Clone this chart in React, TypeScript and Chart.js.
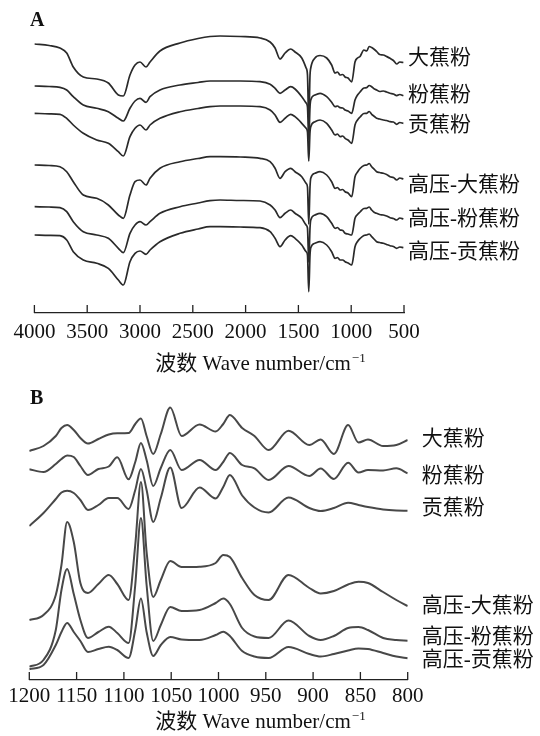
import React, { useEffect, useRef } from "react";
import { Chart, registerables } from "chart.js";

Chart.register(...registerables);

const SERIF = "'Liberation Serif', 'Times New Roman', 'Noto Sans CJK SC', serif";

// ---------- shared ----------
const NAMES = ["大蕉粉", "粉蕉粉", "贡蕉粉", "高压-大蕉粉", "高压-粉蕉粉", "高压-贡蕉粉"];
const AXIS_TITLE = "波数 Wave number/cm";
const AXIS_TITLE_SUP = "−1";

// ---------- panel A: full FTIR spectra (offset transmittance, arbitrary units) ----------
const TICKS_A = [4000, 3500, 3000, 2500, 2000, 1500, 1000, 500];
const WN_A = [4000, 3860, 3758, 3694, 3632, 3537, 3410, 3300, 3205, 3158, 3095, 3047, 3000, 2943, 2905, 2811, 2621, 2450, 2337, 2242, 2050, 1863, 1768, 1721, 1674, 1626, 1573, 1532, 1468, 1427, 1414, 1402, 1390, 1383, 1343, 1295, 1232, 1185, 1153, 1130, 1105, 1080, 1058, 1030, 995, 964, 940, 916, 880, 853, 830, 806, 780, 759, 730, 696, 665, 632, 600, 569, 540, 506];
const A_DA = [269, 267.5, 265, 260, 246, 236, 234, 230, 218, 217, 238, 248, 251, 246, 251, 262, 270, 274.5, 276.5, 277, 276.5, 275, 271, 265, 254, 260, 264, 261, 255, 245, 238, 191, 238, 245, 255, 257.5, 255, 248, 240, 241, 238, 238.5, 236, 235, 231, 251, 255, 256.5, 263, 262, 266.5, 265.5, 263.5, 261.5, 258.5, 258, 256.5, 254.7, 252.5, 249, 251, 250.5];
const A_FEN = [227, 226.5, 225.7, 223, 216.3, 208, 204.7, 201.3, 194.7, 192, 204.7, 212, 214.7, 210.7, 216.3, 223, 228, 230.5, 232, 232, 232, 231.3, 228.7, 224.7, 219.7, 223, 226.3, 224, 216.3, 210, 206, 173, 206, 213, 218, 219.7, 216.3, 210.7, 206.3, 207, 205.3, 205, 203, 202, 199.7, 213, 218, 221, 225, 225.3, 227.5, 226.3, 224, 223, 221.5, 222, 221, 219.7, 219, 217.3, 218.5, 217.3];
const A_GONG = [199.7, 199.2, 198.7, 194.7, 188, 179.7, 173, 169.7, 161.3, 157, 176.3, 184.7, 188, 183, 188, 194.7, 201.3, 204.5, 206.3, 207, 207, 206.3, 203, 198, 190.7, 194.7, 198.7, 196.3, 189.7, 184.7, 181, 152, 181, 186.3, 191.3, 193, 189.7, 183, 178, 179, 176.3, 177, 174.7, 173, 169.7, 188, 193, 196, 199.5, 199.7, 201.5, 198.7, 196.5, 194.7, 194, 193, 192.5, 191.3, 191, 188.7, 190.5, 189.7];
const A_HP_DA = [148, 147.5, 146.3, 141.3, 131.3, 118, 114.7, 108, 98, 94.7, 118, 131.3, 133, 128, 134.7, 144.7, 151.3, 154.5, 156.3, 156.3, 156, 154.7, 151.3, 144.7, 134.7, 141.3, 144.7, 141.3, 136.3, 129.7, 126, 89, 126, 134.7, 139.7, 141.3, 138, 131.3, 124.7, 125.5, 123, 123.5, 121.3, 120, 116.3, 136.3, 141, 144.5, 147.5, 148, 149.5, 146.3, 143.5, 141.3, 140.5, 139.7, 138.5, 136.3, 135.5, 133, 135, 134];
const A_HP_FEN = [106.3, 106, 105.3, 101.3, 91.3, 81.3, 78, 74.7, 64.7, 60.3, 79.7, 88, 91.3, 88, 91.3, 99.7, 106.3, 110, 112.3, 113, 112.5, 112, 108, 103, 95.3, 99.7, 103, 99.7, 94.7, 88, 85, 51, 85, 93, 98, 99.7, 96.3, 89.7, 84.7, 85.5, 83, 82.5, 79.7, 79, 78, 94.7, 98.5, 101, 104.5, 104.7, 106, 103, 100.5, 99.7, 98.5, 98, 97, 95.3, 94.5, 93, 95, 94];
const A_HP_GONG = [78, 77.7, 77.3, 73, 61.3, 53, 49.7, 44.7, 33, 28, 51.3, 59.7, 62, 58.7, 63, 71.3, 79.7, 84, 86.3, 86.3, 86, 85.3, 81.3, 74.7, 66.3, 73, 77.3, 74.7, 68, 61.3, 58, 21.3, 58, 65.3, 69.7, 71.3, 68, 61.3, 54.7, 55.5, 53, 53, 51.3, 50, 48, 66.3, 71.5, 74.5, 77.5, 78, 79, 76.3, 73.5, 71.3, 70.5, 69.7, 68.5, 67.3, 66.5, 64.7, 66, 65.3];

// ---------- panel B: 1200–800 cm-1 deconvolved region ----------
const TICKS_B = [1200, 1150, 1100, 1050, 1000, 950, 900, 850, 800];
const WN_B = [1200, 1185, 1172, 1166, 1160, 1153, 1146, 1138, 1127, 1116, 1107, 1095, 1088, 1082, 1076, 1069, 1061, 1051, 1039, 1020, 1003, 995, 988, 975, 962, 947, 926, 904, 892, 878, 863, 852, 842, 826, 812, 800];
const B_DA = [229, 234, 244, 252, 255, 250, 242, 236.5, 241, 245.5, 246.7, 247, 256, 261.5, 244, 226, 246, 272.5, 244, 255.5, 248.5, 256, 265, 252, 244, 230, 249.3, 235, 240.5, 226, 255, 237.5, 240.5, 234, 235, 240];
const B_FEN = [210.7, 208, 216, 221, 224.5, 223, 214, 205, 211, 213.5, 222.7, 200.7, 218, 237, 220, 194, 212, 230, 210, 220, 210, 218, 227, 215, 211.7, 200, 214, 204, 211.5, 201, 217.3, 207.5, 210, 209.5, 211.7, 206.7];
const B_GONG = [154, 167, 181, 187.5, 189.3, 187, 180, 170, 175, 182, 182, 171, 190, 211, 190, 158, 182, 212.5, 172, 192.5, 181.5, 193, 205, 184.5, 172.5, 167.5, 182.5, 172, 169, 172, 177.3, 175, 173, 170.5, 169.5, 169.3];
const B_HP_DA = [60, 65, 85, 115, 158, 138, 97, 87, 96, 105, 96, 80, 135, 198, 128, 83, 100, 119, 113, 113.3, 117, 125, 123, 102, 85, 80, 105, 92, 86.5, 89, 95.5, 98.3, 97, 88, 80, 74];
const B_HP_FEN = [13.3, 20, 50, 90, 111, 86, 60, 42, 48, 53.3, 47, 37, 95, 162, 95, 39, 55, 73, 69, 70, 77, 81.5, 76, 52, 43.5, 42, 59.5, 44, 40, 44, 52, 53, 50, 42, 40, 39.3];
const B_HP_GONG = [10.7, 15, 35, 48, 57, 48, 39, 28, 31, 33.3, 30, 22, 50, 81.5, 48, 24, 35, 43, 40.5, 40, 45, 48.3, 44, 29, 23.5, 22, 33, 26, 23.5, 26, 29.5, 31.5, 31, 27, 23.5, 21.7];

type DecorOpts = {
  letter: string;
  letterX: number;
  letterY: number;
  titleX: number;
  titleY: number;
  labelGap: number;
  nudges: number[];
  tickLen: number;
};

const decorPlugin = {
  id: "decor",
  afterDraw(chart: any, _args: any, opts: DecorOpts) {
    const { ctx, chartArea } = chart;
    const xs = chart.scales.x;
    ctx.save();
    // inward tick marks
    ctx.strokeStyle = "#222";
    ctx.lineWidth = 1.3;
    ctx.beginPath();
    xs.ticks.forEach((t: any) => {
      const px = xs.getPixelForValue(t.value);
      ctx.moveTo(px, chartArea.bottom);
      ctx.lineTo(px, chartArea.bottom - opts.tickLen);
    });
    ctx.stroke();
    // series labels at the right end of each curve
    ctx.fillStyle = "#111";
    ctx.font = `21px ${SERIF}`;
    ctx.textAlign = "left";
    ctx.textBaseline = "middle";
    chart.data.datasets.forEach((ds: any, i: number) => {
      const meta = chart.getDatasetMeta(i);
      const pt = meta.data[meta.data.length - 1];
      ctx.fillText(ds.label, chartArea.right + opts.labelGap, pt.y + (opts.nudges[i] || 0));
    });
    // panel letter
    ctx.textBaseline = "alphabetic";
    ctx.font = `bold 20px ${SERIF}`;
    ctx.fillText(opts.letter, opts.letterX, opts.letterY);
    // axis title with superscript
    ctx.font = `21px ${SERIF}`;
    const w1 = ctx.measureText(AXIS_TITLE).width;
    ctx.font = `13px ${SERIF}`;
    const w2 = ctx.measureText(AXIS_TITLE_SUP).width;
    const x0 = opts.titleX - (w1 + w2) / 2;
    ctx.font = `21px ${SERIF}`;
    ctx.fillText(AXIS_TITLE, x0, opts.titleY);
    ctx.font = `13px ${SERIF}`;
    ctx.fillText(AXIS_TITLE_SUP, x0 + w1 + 1, opts.titleY - 8);
    ctx.restore();
  },
};

type PanelProps = {
  top: number;
  height: number;
  wn: number[];
  series: number[][];
  ticks: number[];
  xMin: number;
  xMax: number;
  yMax: number;
  padLeft: number;
  padRight: number;
  padTop: number;
  scaleHeight: number;
  tickPadding: number;
  lineColor: string;
  lineWidth: number;
  decor: DecorOpts;
};

function SpectraPanel(p: PanelProps) {
  const ref = useRef<HTMLCanvasElement>(null);
  useEffect(() => {
    if (!ref.current) return;
    const chart = new Chart(ref.current, {
      type: "line",
      data: {
        datasets: p.series.map((vals, i) => ({
          label: NAMES[i],
          data: p.wn.map((x, j) => ({ x, y: vals[j] })),
          borderColor: p.lineColor,
          borderWidth: p.lineWidth,
          pointRadius: 0,
          fill: false,
          cubicInterpolationMode: "monotone" as const,
        })),
      },
      options: {
        responsive: false,
        animation: false,
        events: [],
        layout: { padding: { left: p.padLeft, right: p.padRight, top: p.padTop, bottom: 0 } },
        plugins: {
          legend: { display: false },
          tooltip: { enabled: false },
          decor: p.decor,
        } as any,
        scales: {
          x: {
            type: "linear",
            reverse: true,
            min: p.xMin,
            max: p.xMax,
            afterBuildTicks: (s: any) => {
              s.ticks = p.ticks.map((v) => ({ value: v }));
            },
            afterFit: (s: any) => {
              s.height = p.scaleHeight;
            },
            ticks: {
              autoSkip: false,
              maxRotation: 0,
              padding: p.tickPadding,
              color: "#111",
              font: { family: SERIF, size: 21 },
              callback: (v: any) => String(v),
            },
            grid: { display: true, drawOnChartArea: false, drawTicks: false },
            border: { display: true, color: "#222", width: 1.3 },
          },
          y: {
            type: "linear",
            display: false,
            min: 0,
            max: p.yMax,
          },
        },
      },
      plugins: [decorPlugin as any],
    });
    return () => chart.destroy();
  }, []);
  return (
    <canvas
      ref={ref}
      width={540}
      height={p.height}
      style={{ position: "absolute", left: 0, top: p.top, width: 540, height: p.height }}
    />
  );
}

export default function App() {
  return (
    <div style={{ position: "relative", width: 540, height: 736, background: "#fff", overflow: "hidden" }}>
      <style>{"body{margin:0;background:#fff}"}</style>
      <SpectraPanel
        top={0}
        height={380}
        wn={WN_A}
        series={[A_DA, A_FEN, A_GONG, A_HP_DA, A_HP_FEN, A_HP_GONG]}
        ticks={TICKS_A}
        xMin={500}
        xMax={4000}
        yMax={283}
        padLeft={34.4}
        padRight={136}
        padTop={30}
        scaleHeight={67}
        tickPadding={7}
        lineColor="#2a2a2a"
        lineWidth={1.7}
        decor={{ letter: "A", letterX: 30, letterY: 26, titleX: 260, titleY: 370, labelGap: 4, nudges: [-4, 0, 2, 6, 0, 5], tickLen: 8 }}
      />
      <SpectraPanel
        top={380}
        height={356}
        wn={WN_B}
        series={[B_DA, B_FEN, B_GONG, B_HP_DA, B_HP_FEN, B_HP_GONG]}
        ticks={TICKS_B}
        xMin={800}
        xMax={1200}
        yMax={280}
        padLeft={29.3}
        padRight={132.3}
        padTop={20}
        scaleHeight={56}
        tickPadding={4}
        lineColor="#484848"
        lineWidth={2}
        decor={{ letter: "B", letterX: 30, letterY: 23.5, titleX: 260, titleY: 348, labelGap: 14, nudges: [-1, 3, -2, 0, -3, 2], tickLen: 8 }}
      />
    </div>
  );
}
